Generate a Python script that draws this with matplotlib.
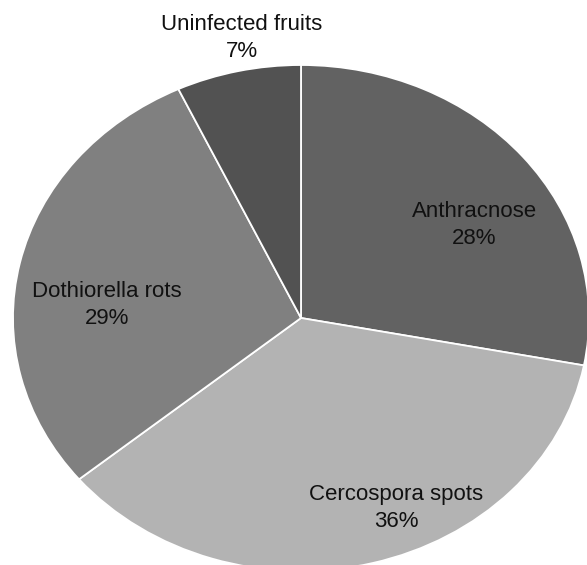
import matplotlib
matplotlib.use("Agg")
import matplotlib.pyplot as plt

# data (clockwise from 12 o'clock)
categories = ["Anthracnose", "Cercospora spots", "Dothiorella rots", "Uninfected fruits"]
shares = [28, 36, 29, 7]
colors = ["#626262", "#b3b3b3", "#808080", "#525252"]

# label centres in data units (layout only)
label_pos = [(0.601, 0.368), (0.330, -0.751), (-0.674, 0.051), (-0.205, 1.107)]

plt.rcParams["font.family"] = ["Liberation Sans", "DejaVu Sans"]

fig = plt.figure(figsize=(5.87, 5.65), dpi=100)
ax = fig.add_axes([0, 0, 1, 1])

labels = [f"{c}\n{s}%" for c, s in zip(categories, shares)]
wedges, texts = ax.pie(
    shares,
    labels=labels,
    colors=colors,
    startangle=90,
    counterclock=False,
    wedgeprops=dict(edgecolor="white", linewidth=1.3),
    textprops=dict(fontsize=16, color="#111111"),
)

for t, (x, y) in zip(texts, label_pos):
    t.set_position((x, y))
    t.set_ha("center")
    t.set_va("center")
    t.set_linespacing(1.4)

# the source image is squashed vertically, so the pie is an ellipse
ax.set_aspect("auto")
ax.set_xlim(-301 / 288, (587 - 301) / 288)
ax.set_ylim(-247 / 253, (565 - 247) / 253)
ax.axis("off")

fig.savefig("out.png", dpi=100, facecolor="white")
